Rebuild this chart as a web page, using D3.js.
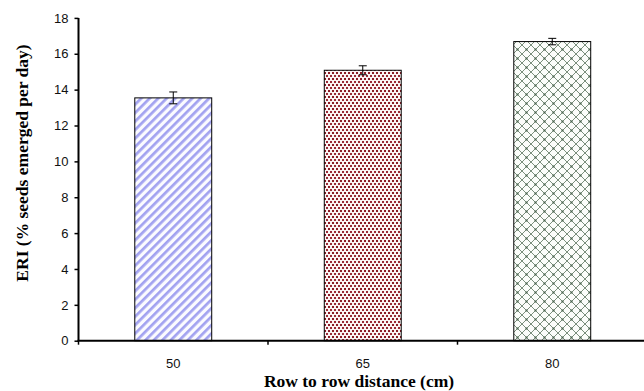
<!DOCTYPE html>
<html>
<head>
<meta charset="utf-8">
<script src="https://cdn.jsdelivr.net/npm/d3@7"></script>
<style>
  body { margin: 0; background: #fff; }
  svg { display: block; }
</style>
</head>
<body>
<svg id="chart" width="644" height="391"></svg>
<script>
// data
var categories = ["50", "65", "80"];
var eriValues = [13.54, 15.08, 16.68];
var eriErrors = [0.33, 0.25, 0.18];
var yTicks = [0, 2, 4, 6, 8, 10, 12, 14, 16, 18];
var fillIds = ["stripes", "dots", "lattice"];

var svg = d3.select("#chart");

// plot area (right edge runs past the picture, as in the reference)
var plotLeft = 78.5, plotRight = 647, plotTop = 17.9, plotBottom = 340.7;

var x = d3.scaleBand().domain(categories).range([plotLeft, plotRight]).padding(0);
var y = d3.scaleLinear().domain([0, 18]).range([plotBottom, plotTop]);
var barW = x.bandwidth() * 0.406;

// fill patterns
var defs = svg.append("defs");

var p1 = defs.append("pattern").attr("id", "stripes")
    .attr("patternUnits", "userSpaceOnUse").attr("width", 6).attr("height", 6)
    .attr("patternTransform", "rotate(45)");
p1.append("rect").attr("width", 6).attr("height", 6).attr("fill", "#fbfbff");
p1.append("rect").attr("x", 0).attr("width", 2.7).attr("height", 6).attr("fill", "#a2a2f0");

var p2 = defs.append("pattern").attr("id", "dots")
    .attr("patternUnits", "userSpaceOnUse").attr("width", 4).attr("height", 6);
p2.append("rect").attr("width", 4).attr("height", 6).attr("fill", "#fbf4f4");
p2.append("rect").attr("x", 0).attr("y", 0).attr("width", 2).attr("height", 2).attr("fill", "#8b1c26");
p2.append("rect").attr("x", 2).attr("y", 3).attr("width", 2).attr("height", 2).attr("fill", "#9a2a36");

var p3 = defs.append("pattern").attr("id", "lattice")
    .attr("patternUnits", "userSpaceOnUse").attr("width", 9).attr("height", 9);
p3.append("rect").attr("width", 9).attr("height", 9).attr("fill", "#fbfdfa");
p3.append("path").attr("d", "M0,0L9,9M9,0L0,9")
    .attr("stroke", "#6b826e").attr("stroke-width", 0.9).attr("fill", "none");
p3.append("rect").attr("x", 3.5).attr("y", 3.5).attr("width", 2).attr("height", 2).attr("fill", "#4a654f");

// bars
svg.selectAll(".bar")
    .data(eriValues)
    .enter()
    .append("rect")
    .attr("class", "bar")
    .attr("x", function (d, i) { return x(categories[i]) + (x.bandwidth() - barW) / 2; })
    .attr("y", function (d) { return y(d); })
    .attr("width", barW)
    .attr("height", function (d) { return y(0) - y(d); })
    .attr("fill", function (d, i) { return "url(#" + fillIds[i] + ")"; })
    .attr("stroke", "#000")
    .attr("stroke-width", 1);

// error bars
var eb = svg.selectAll(".err")
    .data(eriValues)
    .enter()
    .append("g")
    .attr("class", "err")
    .attr("stroke", "#000")
    .attr("stroke-width", 1);
eb.append("line")
    .attr("x1", function (d, i) { return x(categories[i]) + x.bandwidth() / 2; })
    .attr("x2", function (d, i) { return x(categories[i]) + x.bandwidth() / 2; })
    .attr("y1", function (d, i) { return y(d + eriErrors[i]); })
    .attr("y2", function (d, i) { return y(d - eriErrors[i]); });
[1, -1].forEach(function (s) {
    eb.append("line")
        .attr("x1", function (d, i) { return x(categories[i]) + x.bandwidth() / 2 - 4; })
        .attr("x2", function (d, i) { return x(categories[i]) + x.bandwidth() / 2 + 4; })
        .attr("y1", function (d, i) { return y(d + s * eriErrors[i]); })
        .attr("y2", function (d, i) { return y(d + s * eriErrors[i]); });
});

// y axis
var yAxis = svg.append("g")
    .attr("transform", "translate(" + plotLeft + ",0)")
    .call(d3.axisLeft(y).tickValues(yTicks).tickSize(4).tickPadding(6));
yAxis.select(".domain").attr("stroke-width", 2).attr("d", "M0," + plotTop + "V" + plotBottom);
yAxis.selectAll(".tick line").attr("stroke-width", 1.5);
yAxis.selectAll("text")
    .attr("font-family", "'Liberation Sans', Arial, sans-serif")
    .attr("font-size", 13).attr("fill", "#111");

// x axis: ticks sit between categories
var xAxis = svg.append("g").attr("transform", "translate(0," + plotBottom + ")");
xAxis.append("line").attr("x1", plotLeft - 1).attr("x2", plotRight)
    .attr("stroke", "#000").attr("stroke-width", 2);
xAxis.selectAll(".xt")
    .data(categories)
    .enter()
    .append("line")
    .attr("x1", function (d) { return x(d); })
    .attr("x2", function (d) { return x(d); })
    .attr("y1", 0).attr("y2", 4)
    .attr("stroke", "#000").attr("stroke-width", 1.5);
xAxis.selectAll(".xl")
    .data(categories)
    .enter()
    .append("text")
    .attr("x", function (d) { return x(d) + x.bandwidth() / 2; })
    .attr("y", 27)
    .attr("text-anchor", "middle")
    .attr("font-family", "'Liberation Sans', Arial, sans-serif")
    .attr("font-size", 13).attr("fill", "#111")
    .text(function (d) { return d; });

// axis titles
svg.append("text")
    .attr("x", 359).attr("y", 387)
    .attr("text-anchor", "middle")
    .attr("font-family", "'Liberation Serif', 'Times New Roman', serif")
    .attr("font-weight", "bold").attr("font-size", 17.5)
    .text("Row to row distance (cm)");

svg.append("text")
    .attr("transform", "translate(28,163) rotate(-90)")
    .attr("text-anchor", "middle")
    .attr("font-family", "'Liberation Serif', 'Times New Roman', serif")
    .attr("font-weight", "bold").attr("font-size", 17.5)
    .text("ERI (% seeds emerged per day)");
</script>
</body>
</html>
